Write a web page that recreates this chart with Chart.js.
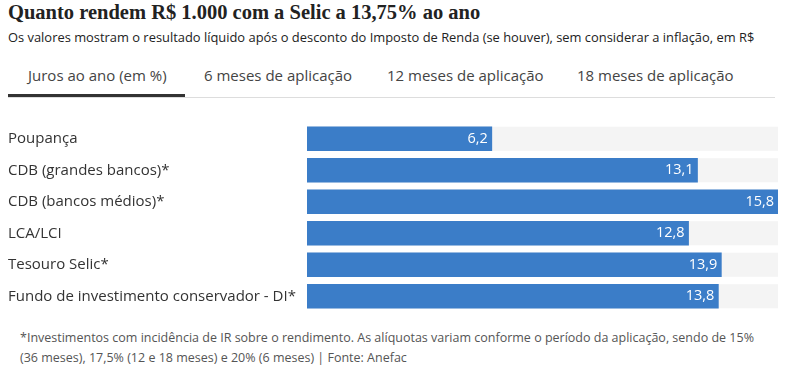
<!DOCTYPE html>
<html>
<head>
<meta charset="utf-8">
<script src="https://cdn.jsdelivr.net/npm/chart.js@4"></script>
<style>
  body { margin: 0; background: #fff; width: 800px; height: 381px; position: relative; overflow: hidden; font-family: "Open Sans", sans-serif; }
  .title { position: absolute; left: 8px; top: 1px; font: bold 20.5px "Liberation Serif", serif; color: #222; white-space: nowrap; }
  .sub { position: absolute; left: 8px; top: 28px; font-size: 12.9px; color: #222; white-space: nowrap; }
  .tabs { position: absolute; left: 8px; top: 63px; width: 767px; height: 34px; border-bottom: 1px solid #ddd; }
  .tab { position: absolute; top: 2px; font-size: 15px; color: #444; white-space: nowrap; }
  .tab.on { top: 0; padding-top: 2px; border-bottom: 3px solid #333; height: 29px; }
  .box { position: absolute; left: 0; top: 111px; width: 800px; height: 213px; }
  .note { position: absolute; left: 20px; top: 328px; font-size: 12.5px; line-height: 20px; color: #555; white-space: nowrap; }
</style>
</head>
<body>
<div class="title">Quanto rendem R$ 1.000 com a Selic a 13,75% ao ano</div>
<div class="sub">Os valores mostram o resultado líquido após o desconto do Imposto de Renda (se houver), sem considerar a inflação, em R$</div>
<div class="tabs">
  <div class="tab on" style="left:0;width:177px;"><span style="margin-left:20px">Juros ao ano (em %)</span></div>
  <div class="tab" style="left:196px">6 meses de aplicação</div>
  <div class="tab" style="left:379px">12 meses de aplicação</div>
  <div class="tab" style="left:569px">18 meses de aplicação</div>
</div>
<div class="box"><canvas id="chart"></canvas></div>
<div class="note">*Investimentos com incidência de IR sobre o rendimento. As alíquotas variam conforme o período da aplicação, sendo de 15%<br>(36 meses), 17,5% (12 e 18 meses) e 20% (6 meses) | Fonte: Anefac</div>

<script>
const categorias = [
    'Poupança',
    'CDB (grandes bancos)*',
    'CDB (bancos médios)*',
    'LCA/LCI',
    'Tesouro Selic*',
    'Fundo de investimento conservador - DI*'
];
const juros = [6.2, 13.1, 15.8, 12.8, 13.9, 13.8];

// faixa cinza atrás de cada barra + rótulo branco na ponta
const barExtras = {
    id: 'barExtras',
    beforeDatasetsDraw(chart) {
        const { ctx, chartArea } = chart;
        ctx.save();
        ctx.fillStyle = '#f4f4f4';
        chart.getDatasetMeta(0).data.forEach(bar => {
            ctx.fillRect(chartArea.left, bar.y - bar.height / 2, chartArea.right - chartArea.left, bar.height);
        });
        ctx.restore();
    },
    afterDatasetsDraw(chart) {
        const { ctx } = chart;
        ctx.save();
        ctx.fillStyle = '#fff';
        ctx.font = '14.5px "Open Sans", sans-serif';
        ctx.textAlign = 'right';
        ctx.textBaseline = 'middle';
        chart.getDatasetMeta(0).data.forEach((bar, i) => {
            ctx.fillText(String(juros[i]).replace('.', ','), bar.x - 4, bar.y);
        });
        ctx.restore();
    }
};

new Chart(document.getElementById('chart'), {
    type: 'bar',
    data: {
        labels: categorias,
        datasets: [{
            data: juros,
            backgroundColor: '#3b7dc8',
            barThickness: 24
        }]
    },
    options: {
        indexAxis: 'y',
        responsive: true,
        maintainAspectRatio: false,
        animation: false,
        layout: { padding: { left: 8, right: 22, top: 0, bottom: 0 } },
        plugins: { legend: { display: false }, tooltip: { enabled: false } },
        scales: {
            x: { display: false, min: 0, max: 15.8 },
            y: {
                afterFit(scale) { scale.width = 299; },
                grid: { display: false },
                border: { display: false },
                ticks: {
                    crossAlign: 'far',
                    color: '#333',
                    font: { family: '"Open Sans", sans-serif', size: 15 }
                }
            }
        }
    },
    plugins: [barExtras]
});
</script>
</body>
</html>
